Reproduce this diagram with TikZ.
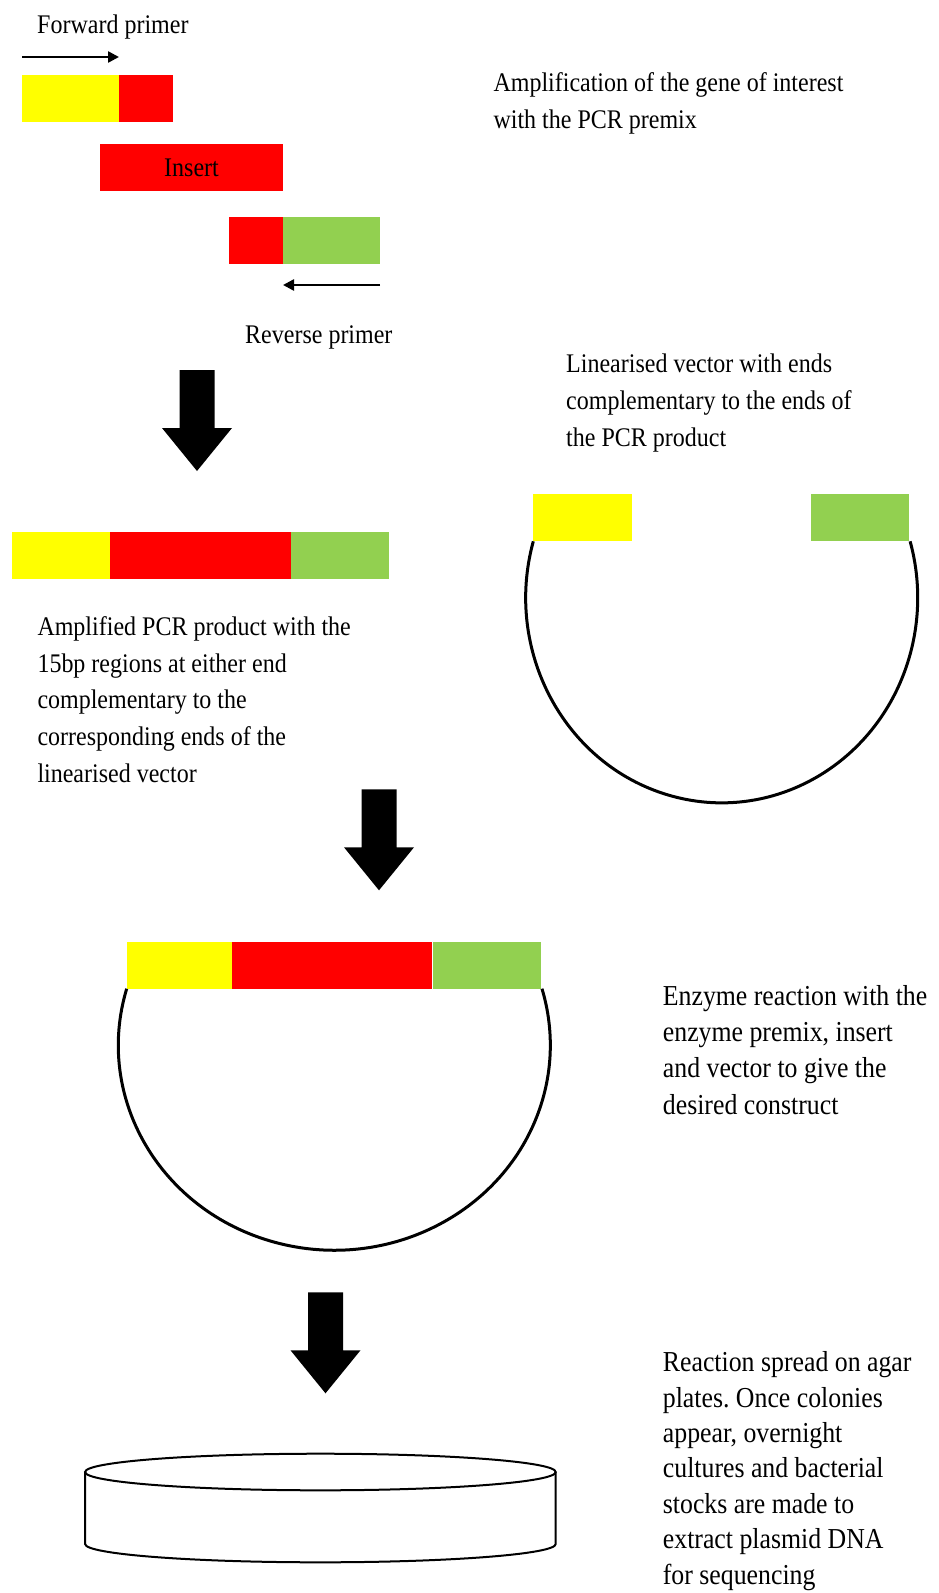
\documentclass[tikz,border=0pt]{standalone}
\usepackage{fontspec}
\setmainfont{Liberation Serif}
\usetikzlibrary{arrows.meta}
\frenchspacing
\definecolor{segyellow}{HTML}{FFFF00}
\definecolor{segred}{HTML}{FF0000}
\definecolor{seggreen}{HTML}{92D050}
\tikzset{
  seg/.style={anchor=north west, inner sep=0pt, outer sep=0pt, minimum height=47pt, draw=none},
  % text blocks are anchored at the baseline of their last line
  txt/.style={anchor=base west, inner sep=0pt, align=left, yscale=1.12, transform shape,
    font=\fontsize{24pt}{32.6pt}\selectfont},
  txtbig/.style={txt, font=\fontsize{25.8pt}{32.4pt}\selectfont},
  txtlong/.style={txt, font=\fontsize{25.8pt}{31.6pt}\selectfont},
  primer/.style={line width=2.5pt, -{Triangle[length=11pt,width=11pt]}},
  backbone/.style={line width=3pt},
  dish/.style={line width=2pt},
  bigarrow/.pic={\fill (-17.5,0) -- (17.5,0) -- (17.5,-58) -- (35,-58) -- (0,-101)
    -- (-35,-58) -- (-17.5,-58) -- cycle;}
}
\begin{document}
\begin{tikzpicture}[x=1pt,y=1pt]
\fill[white] (0,0) rectangle (939,-1593);
\useasboundingbox (0,0) rectangle (939,-1593);

% PCR primers and insert
\node[seg, fill=segyellow, minimum width=97pt] (fy) at (22,-75) {};
\node[seg, fill=segred, minimum width=54pt] (fr) at (fy.north east) {};
\node[seg, fill=segred, minimum width=183pt, font=\fontsize{24pt}{28pt}\selectfont] (ins) at (100,-144) {\scalebox{1}[1.12]{Insert}};
\node[seg, fill=segred, minimum width=54pt] (rr) at (229,-217) {};
\node[seg, fill=seggreen, minimum width=97pt] (rg) at (rr.north east) {};
\draw[primer] ([yshift=18pt]fy.north west) -- ([yshift=18pt]fy.north east);
\draw[primer] ([yshift=-21pt]rg.south east) -- ([yshift=-21pt]rg.south west);
\node[txt] (fwdlbl) at (37,-33) {Forward primer};
\node[txt] (revlbl) at (245,-343) {Reverse primer};
\node[txt] (amptxt) at (493.3,-128.3) {Amplification of the gene of interest\\with the PCR premix};

% amplified product
\node[seg, fill=segyellow, minimum width=98.3pt] (py) at (11.7,-532.3) {};
\node[seg, fill=segred, minimum width=180.7pt] (pr) at (py.north east) {};
\node[seg, fill=seggreen, minimum width=98.3pt] (pg) at (pr.north east) {};
\node[txt] (prodtxt) at (37.3,-782) {Amplified PCR product with the\\15bp regions at either end\\complementary to the\\corresponding ends of the\\linearised vector};

% linearised vector
\node[seg, fill=segyellow, minimum width=98.7pt] (vy) at (533.3,-494.3) {};
\node[seg, fill=seggreen, minimum width=98.6pt] (vg) at (810.7,-494.3) {};
\draw[backbone] (vy.south west) arc[start angle=164, end angle=376, x radius=196, y radius=205];
\node[txt] (lintxt) at (566,-446) {Linearised vector with ends\\complementary to the ends of\\the PCR product};

% assembled construct
\node[seg, fill=segyellow, minimum width=105.3pt] (cy) at (126.7,-941.7) {};
\node[seg, fill=segred, minimum width=200pt] (cr) at (cy.north east) {};
\node[seg, fill=seggreen, minimum width=107.4pt] (cg) at ([xshift=1.3pt]cr.north east) {};
\draw[backbone] (cy.south west) arc[start angle=164, end angle=376, x radius=216, y radius=205];
\node[txtbig] (enztxt) at (662.7,-1114) {Enzyme reaction with the\\enzyme premix, insert\\and vector to give the\\desired construct};

% agar plate
\coordinate (dishc) at (320.4,-1472);
\draw[dish] (dishc) ellipse [x radius=235.3, y radius=18.3];
\draw[dish] ([xshift=-235.3pt]dishc) -- ++(0,-72) arc[start angle=180, end angle=360, x radius=235.3, y radius=18.3] -- ++(0,72);
\node[txtlong] (platetxt) at (662.7,-1584) {Reaction spread on agar\\plates. Once colonies\\appear, overnight\\cultures and bacterial\\stocks are made to\\extract plasmid DNA\\for sequencing};

% process steps
\pic at (197,-370) {bigarrow};
\pic at (379,-789.3) {bigarrow};
\pic at (325.5,-1292.3) {bigarrow};
\end{tikzpicture}
\end{document}
